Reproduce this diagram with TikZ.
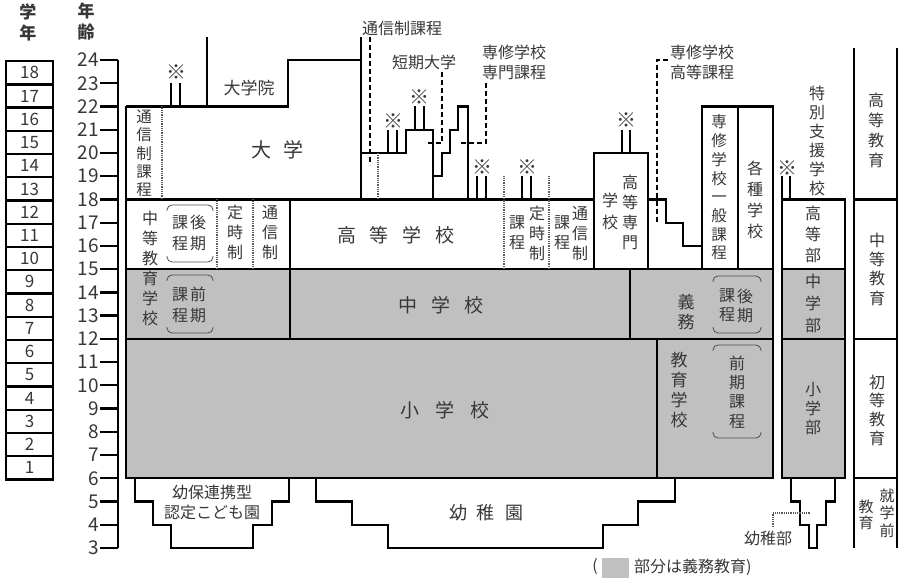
\documentclass[tikz,border=0pt]{standalone}
\usepackage{fontspec}
\setmainfont{Noto Sans CJK JP}
\definecolor{tx}{RGB}{55,55,55}
\definecolor{gfill}{RGB}{192,192,192}
\newcommand\mybrk[4]{%
  \draw[brk] (#1,#2+6) -- (#1,#2) -- (#3,#2) -- (#3,#2+6);
  \draw[brk] (#1,#4-6) -- (#1,#4) -- (#3,#4) -- (#3,#4-6);
}
\begin{document}
\begin{tikzpicture}[x=1pt,y=-1pt,
  ln/.style={line width=2.3pt},
  dotl/.style={line width=2.2pt, black!65, dash pattern=on 0.9pt off 0.9pt},
  dashl/.style={line width=2pt, dash pattern=on 5pt off 3pt},
  brk/.style={line width=0.8pt, black!70, rounded corners=5pt},
  t/.style={text=tx, inner sep=0pt, align=center, font=\fontsize{16}{20}\selectfont},
  tv/.style={t, font=\fontsize{15.5}{18.7}\selectfont},
  big/.style={t, font=\fontsize{19}{22}\selectfont},
  num/.style={text=tx, inner sep=0pt, font=\fontsize{19}{22}\selectfont},
  gbox/.style={draw, line width=2.3pt, minimum width=47pt, minimum height=23.24pt, inner sep=0pt, anchor=north west, text=tx, font=\fontsize{17}{20}\selectfont},
  kome/.style={text=tx, inner sep=0pt, font=\fontsize{20}{20}\selectfont},
]
\useasboundingbox (0,0) rectangle (900,585);

% gray fills
\fill[gfill] (126,269.2) rectangle (773,478.3);
\fill[gfill] (782,269.2) rectangle (845,478.3);
\fill[gfill] (602,558) rectangle (629,578);

% headers
\node[t, font=\bfseries\fontsize{17}{21}\selectfont] (hgrade) at (28,22) {学\\年};
\node[t, font=\bfseries\fontsize{17}{21}\selectfont] (hage) at (86,22) {年\\齢};

% grade boxes
\foreach \g in {1,...,18}{
  \pgfmathsetmacro\yt{60+(18-\g)*23.238}
  \node[gbox] (g\g) at (5,\yt) {\g};
}
% age axis
\draw[ln] (118,60) -- (118,548);
\foreach \a in {3,...,24}{
  \pgfmathsetmacro\yy{60+(24-\a)*23.238}
  \draw[ln] (100,\yy) -- (118,\yy);
  \node[num, anchor=east] (age\a) at (99,\yy) {\a};
}

% main outline
\draw[ln] (126,106.5) -- (126,478.3) -- (773,478.3) -- (773,106.5) -- (702,106.5) -- (702,269.2);
\draw[ln] (126,106.5) -- (288,106.5) -- (288,60) -- (361,60);
\draw[ln] (361,37) -- (361,199.4);
\draw[ln] (207,37) -- (207,106.5);
\draw[ln] (126,199.4) -- (594,199.4);
\draw[ln] (594,269.2) -- (594,153) -- (648,153) -- (648,269.2);
\draw[ln] (648,199.4) -- (666,199.4) -- (666,222.7) -- (683,222.7) -- (683,245.9) -- (702,245.9);
\draw[ln] (738,106.5) -- (738,269.2);
\draw[ln] (126,269.2) -- (773,269.2);
\draw[ln] (126,338.9) -- (773,338.9);
\draw[ln] (290,199.4) -- (290,338.9);
\draw[ln] (630,269.2) -- (630,338.9);
\draw[ln] (657,338.9) -- (657,478.3);
% stepped university / junior college
\draw[ln] (361,153) -- (406,153) -- (406,129.7) -- (433,129.7) -- (433,199.4);
\draw[ln] (433,176.2) -- (442,176.2) -- (442,153) -- (450,153) -- (450,129.7) -- (458,129.7) -- (458,106.5) -- (468,106.5) -- (468,199.4);

% special support school
\draw[ln] (782,199.4) rectangle (845,478.3);
\draw[ln] (782,269.2) -- (845,269.2);
\draw[ln] (782,338.9) -- (845,338.9);
\draw[ln] (791,478.3) -- (791,501.6) -- (800,501.6) -- (800,524.8) -- (809,524.8) -- (809,548) -- (817,548) -- (817,524.8) -- (826,524.8) -- (826,501.6) -- (835,501.6) -- (835,478.3);

% right column
\draw[ln] (854,48) -- (854,548);
\draw[ln] (897,48) -- (897,548);
\draw[ln] (854,199.4) -- (897,199.4);
\draw[ln] (854,338.9) -- (897,338.9);
\draw[ln] (854,478.3) -- (897,478.3);

% kindergarten
\draw[ln] (135,478.3) -- (135,501.6) -- (153,501.6) -- (153,524.8) -- (171,524.8) -- (171,548) -- (253,548) -- (253,524.8) -- (272,524.8) -- (272,501.6) -- (289,501.6) -- (289,478.3);
\draw[ln] (316,478.3) -- (316,501.6) -- (352,501.6) -- (352,524.8) -- (388,524.8) -- (388,548) -- (603,548) -- (603,524.8) -- (638,524.8) -- (638,501.6) -- (675,501.6) -- (675,478.3);

% double lines with kome marks
\foreach \xa/\xb/\ya/\yb in {171/180/83.2/106.5, 388/397/129.7/153, 415/424/106.5/129.7, 477/486/176.2/199.4, 522/531/176.2/199.4, 622/630/129.7/153, 782/790/176.2/199.4}{
  \draw[ln] (\xa,\ya) -- (\xa,\yb);
  \draw[ln] (\xb,\ya) -- (\xb,\yb);
}
\node[kome] (k1) at (176,72) {※};
\node[kome] (k2) at (393,121) {※};
\node[kome] (k3) at (419,97) {※};
\node[kome] (k4) at (482,167) {※};
\node[kome] (k5) at (527,167) {※};
\node[kome] (k6) at (626,120) {※};
\node[kome] (k7) at (787,168) {※};

% dotted lines
\draw[dotl] (162,106.5) -- (162,199.4);
\draw[dotl] (378,153) -- (378,199.4);
\draw[dotl] (504,176.2) -- (504,269.2);
\draw[dotl] (549,176.2) -- (549,269.2);
\draw[dotl] (217,199.4) -- (217,269.2);
\draw[dotl] (253,199.4) -- (253,269.2);

% labels with dashed leaders
\node[t] (ltsushin) at (402,28) {通信制課程};
\node[t] (ltanki) at (424,62) {短期大学};
\node[t] (lsenmon) at (514,62) {専修学校\\専門課程};
\node[t] (lkoto) at (702,62) {専修学校\\高等課程};
\coordinate (c1a) at (370,37);
\coordinate (c1b) at (370,165);
\draw[dashl] (c1a) -- (c1b);
\coordinate (c2a) at (442,72);
\coordinate (c2b) at (442,143);
\coordinate (c2c) at (425,143);
\draw[dashl] (c2a) -- (c2b) -- (c2c);
\coordinate (c3a) at (486,83);
\coordinate (c3b) at (486,143);
\coordinate (c3c) at (461,143);
\draw[dashl] (c3a) -- (c3b) -- (c3c);
\coordinate (c4a) at (668,60);
\coordinate (c4b) at (657,60);
\coordinate (c4c) at (657,223);
\draw[dashl] (c4a) -- (c4b) -- (c4c);
% yochibu dotted leader
\coordinate (c5a) at (773,527);
\coordinate (c5b) at (773,513);
\coordinate (c5c) at (810,513);
\draw[line width=2pt, black!65, dash pattern=on 0.9pt off 0.9pt] (c5a) -- (c5b) -- (c5c);

% brackets
\mybrk{167}{205}{213}{262}
\mybrk{167}{275}{213}{333}
\mybrk{713}{276}{761}{333}
\mybrk{713}{345}{761}{438}

% texts
\node[t, font=\fontsize{17}{20}\selectfont] (tdaigakuin) at (249,88) {大学院};
\node[t, font=\fontsize{20}{22}\selectfont] (tdaigaku) at (277,150) {大\hspace{12pt}学};
\node[tv, font=\fontsize{15.5}{18.3}\selectfont] (tutsushin) at (144,153.5) {通\\信\\制\\課\\程};

\node[t] (tchuto) at (150,268) {中\\等\\教\\育\\学\\校};
\node[t, font=\fontsize{16}{21}\selectfont] (tk1a) at (180,233) {課\\程};
\node[t, font=\fontsize{16}{21}\selectfont] (tk1b) at (198,233) {後\\期};
\node[t, font=\fontsize{16}{21}\selectfont] (tk2a) at (180,305) {課\\程};
\node[t, font=\fontsize{16}{21}\selectfont] (tk2b) at (198,305) {前\\期};
\node[t] (tteiji1) at (235,232.5) {定\\時\\制};
\node[t] (ttsu1) at (270,232.5) {通\\信\\制};

\node[big] (tkoko) at (396,235) {高\hspace{14pt}等\hspace{14pt}学\hspace{14pt}校};
\node[t] (tk3a) at (517,233) {課\\程};
\node[t] (tteiji2) at (537,233) {定\\時\\制};
\node[t] (tk4a) at (562,233) {課\\程};
\node[t] (ttsu2) at (580,234) {通\\信\\制};
\node[t] (tkosen1) at (630,212) {高\\等\\専\\門};
\node[t, font=\fontsize{16}{22}\selectfont] (tkosen2) at (610,211) {学\\校};

\node[tv] (tippan) at (719,187.5) {専\\修\\学\\校\\一\\般\\課\\程};
\node[t, font=\fontsize{16}{21}\selectfont] (tkakushu) at (755,200) {各\\種\\学\\校};
\node[t, font=\fontsize{16}{19}\selectfont] (ttokubetsu) at (817,140.5) {特\\別\\支\\援\\学\\校};
\node[t, font=\fontsize{16}{21}\selectfont] (tkotobu) at (813,234) {高\\等\\部};
\node[t, font=\fontsize{16}{22}\selectfont] (tchugakubu) at (813,303) {中\\学\\部};
\node[t, font=\fontsize{16}{19}\selectfont] (tshogakubu) at (813,409) {小\\学\\部};

\node[big] (tchugakko) at (441,305) {中\hspace{14pt}学\hspace{14pt}校};
\node[big] (tshogakko) at (445,410) {小\hspace{16pt}学\hspace{16pt}校};
\node[t, font=\fontsize{17}{20}\selectfont] (tgimu1) at (686,312) {義\\務};
\node[t, font=\fontsize{17}{20}\selectfont] (tgimu2) at (679,390) {教\\育\\学\\校};
\node[t, font=\fontsize{16}{19}\selectfont] (tk5a) at (727,305.5) {課\\程};
\node[t, font=\fontsize{16}{19}\selectfont] (tk5b) at (745,305.5) {後\\期};
\node[t, font=\fontsize{16}{19.3}\selectfont] (tk6) at (737,392) {前\\期\\課\\程};

\node[t] (rkoto) at (876,130) {高\\等\\教\\育};
\node[t, font=\fontsize{16}{19.3}\selectfont] (rchuto) at (877,269) {中\\等\\教\\育};
\node[t, font=\fontsize{16}{18.7}\selectfont] (rshoto) at (877,410) {初\\等\\教\\育};
\node[t, font=\fontsize{15}{17.5}\selectfont] (rshugaku1) at (887,513) {就\\学\\前};
\node[t, font=\fontsize{15}{16.5}\selectfont] (rshugaku2) at (866,515) {教\\育};

\node[t] (tnintei) at (212,502) {幼保連携型\\認定こども園};
\node[t, font=\fontsize{18}{22}\selectfont] (tyochien) at (486,513) {幼\hspace{10pt}稚\hspace{10pt}園};
\node[t] (tyochibu) at (768,538) {幼稚部};

\node[t] (lparen) at (595,567) {(};
\node[t, anchor=west] (legend) at (634,567) {部分は義務教育)};
\end{tikzpicture}
\end{document}
